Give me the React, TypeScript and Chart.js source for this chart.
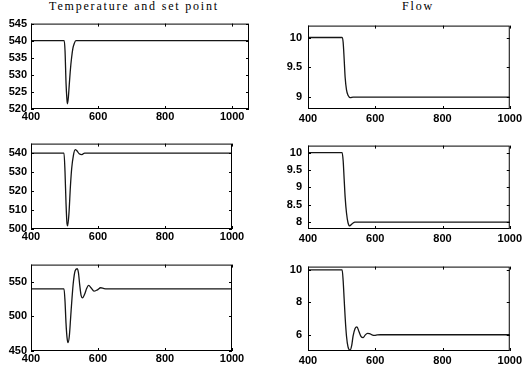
import React, { useEffect, useRef } from 'react';
import { Chart, registerables } from 'chart.js';

Chart.register(...registerables);

// ---- tick labels ----
const xTicks = [400, 600, 800, 1000];
const yTicksTempA = [520, 525, 530, 535, 540, 545];
const yTicksFlowA = [9, 9.5, 10];
const yTicksTempB = [500, 510, 520, 530, 540];
const yTicksFlowB = [8, 8.5, 9, 9.5, 10];
const yTicksTempC = [450, 500, 550];
const yTicksFlowC = [6, 8, 10];

// ---- series ----
const timeTempA = [400, 499, 501.5, 504.5, 507, 508.5, 511, 514, 517, 521, 525, 529, 534, 1050];
const tempA = [540, 540, 537, 527.5, 523, 521.5, 523, 527, 531, 535, 537.8, 539.2, 540, 540];

const timeFlowA = [400, 501, 504.5, 507.5, 510.5, 514.5, 519, 526, 534, 1000];
const flowA = [10, 10, 9.92, 9.64, 9.33, 9.12, 9.03, 8.99, 9.0, 9.0];

const timeTempB = [400, 498.5, 501.5, 504.5, 507.5, 509.5, 513.5, 517.5, 521.5, 526.5, 532, 537, 544, 552, 560, 1000];
const tempB = [540, 540, 530.3, 513.7, 502.8, 501.7, 508.7, 522, 532, 538.7, 541.8, 541.2, 539.6, 539.2, 540, 540];

const timeFlowB = [400, 501.5, 504.5, 507.5, 510.5, 514.5, 519, 524, 529, 534, 539, 1000];
const flowB = [10, 10, 9.77, 9.24, 8.71, 8.26, 7.98, 7.89, 7.93, 7.97, 8.0, 8.0];

const timeTempC = [400, 498.5, 501.5, 504.5, 507.5, 510.5, 514.5, 518.5, 522.5, 526.5, 531.5, 537.5, 541.5, 545.5, 549.5, 554, 560, 566, 572, 580, 588, 598, 608, 618, 630, 1000];
const tempC = [540, 540, 522.4, 490.3, 469.7, 462, 472, 499.5, 527, 549.8, 565.8, 569, 563.6, 545.2, 530.6, 527, 532, 540.5, 545, 541, 536.5, 538.5, 541.5, 540.3, 540, 540];

const timeFlowC = [400, 501.5, 504.5, 507.5, 510.5, 514.5, 519, 525, 530, 534, 540, 545.5, 551.5, 558, 564, 570, 577, 583, 590, 598, 606, 615, 1000];
const flowC = [10, 10, 9.34, 8.2, 7.06, 5.91, 5.25, 5.05, 5.34, 5.91, 6.39, 6.49, 6.2, 5.88, 5.82, 5.98, 6.08, 6.07, 6.0, 5.96, 5.99, 6.0, 6.0];

const titleLeft = 'Temperature and set point';
const titleRight = 'Flow';

const TICK_FONT = { family: '"Liberation Sans", Arial, sans-serif', size: 11, weight: 'bold' as const };

const framePlugin = {
  id: 'frameTicks',
  afterDraw(chart: any) {
    const { ctx, chartArea: a, scales } = chart;
    const x = scales.x, y = scales.y;
    ctx.save();
    ctx.strokeStyle = '#000';
    ctx.lineWidth = 1;
    ctx.strokeRect(a.left + 0.5, a.top + 0.5, a.right - a.left - 1, a.bottom - a.top - 1);
    ctx.beginPath();
    for (const t of x.ticks) {
      const px = Math.round(x.getPixelForValue(t.value)) + 0.5;
      ctx.moveTo(px, a.bottom); ctx.lineTo(px, a.bottom - 3);
      ctx.moveTo(px, a.top); ctx.lineTo(px, a.top + 3);
    }
    for (const t of y.ticks) {
      const py = Math.round(y.getPixelForValue(t.value)) + 0.5;
      ctx.moveTo(a.left, py); ctx.lineTo(a.left + 3, py);
      ctx.moveTo(a.right, py); ctx.lineTo(a.right - 3, py);
    }
    ctx.stroke();
    ctx.restore();
  },
};

type PanelProps = {
  L: number; R: number; T: number; B: number;
  xMax: number; yMin: number; yMax: number; yTicks: number[];
  xs: number[]; ys: number[]; yPad: number; xPad: number;
};

const AW = 30, PT = 6, PR = 14, XH = 16;

function Panel({ L, R, T, B, xMax, yMin, yMax, yTicks, xs, ys, yPad, xPad }: PanelProps) {
  const ref = useRef<HTMLCanvasElement>(null);
  const w = R - L + AW + PR;
  const h = B - T + PT + XH;
  useEffect(() => {
    const chart = new Chart(ref.current as HTMLCanvasElement, {
      type: 'line',
      data: {
        datasets: [{
          data: xs.map((x, i) => ({ x, y: ys[i] })),
          borderColor: '#151515',
          borderWidth: 1.3,
          pointRadius: 0,
          cubicInterpolationMode: 'monotone',
          fill: false,
        }],
      },
      options: {
        responsive: false,
        animation: false,
        devicePixelRatio: 1,
        layout: { padding: { top: PT, right: PR, left: 0, bottom: 0 } },
        plugins: { legend: { display: false }, tooltip: { enabled: false } },
        scales: {
          x: {
            type: 'linear', min: 400, max: xMax,
            afterBuildTicks: (s: any) => { s.ticks = xTicks.map((v) => ({ value: v })); },
            afterFit: (s: any) => { s.height = XH; },
            grid: { display: false, drawTicks: false },
            border: { display: false },
            ticks: { font: TICK_FONT, color: '#000', padding: xPad, maxRotation: 0, autoSkip: false, callback: (v: any) => String(v) },
          },
          y: {
            type: 'linear', min: yMin, max: yMax,
            afterBuildTicks: (s: any) => { s.ticks = yTicks.map((v) => ({ value: v })); },
            afterFit: (s: any) => { s.width = AW; },
            grid: { display: false, drawTicks: false },
            border: { display: false },
            ticks: { font: TICK_FONT, color: '#000', padding: yPad, autoSkip: false, callback: (v: any) => String(v) },
          },
        },
      } as any,
      plugins: [framePlugin],
    });
    return () => chart.destroy();
  }, []);
  return (
    <canvas
      ref={ref}
      width={w}
      height={h}
      style={{ position: 'absolute', left: L - AW, top: T - PT, width: w, height: h }}
    />
  );
}

const titleStyle: React.CSSProperties = {
  position: 'absolute',
  top: -1,
  transform: 'translateX(-50%)',
  fontFamily: '"Liberation Serif", "Times New Roman", serif',
  fontSize: 12,
  lineHeight: '14px',
  letterSpacing: '1.8px',
  whiteSpace: 'nowrap',
  color: '#000',
};

export default function App() {
  return (
    <div style={{ position: 'absolute', left: 0, top: 0, width: 523, height: 368, overflow: 'hidden', background: '#fff' }}>
      <div style={{ ...titleStyle, left: 134 }}>{titleLeft}</div>
      <div style={{ ...titleStyle, left: 418 }}>{titleRight}</div>
      <Panel L={31} R={249} T={19} B={109} xMax={1050} yMin={520} yMax={545} yTicks={yTicksTempA} xs={timeTempA} ys={tempA} yPad={4} xPad={1} />
      <Panel L={308} R={511} T={19} B={109} xMax={1000} yMin={8.8} yMax={10.2} yTicks={yTicksFlowA} xs={timeFlowA} ys={flowA} yPad={6} xPad={3} />
      <Panel L={31} R={232} T={139} B={229} xMax={1000} yMin={500} yMax={545} yTicks={yTicksTempB} xs={timeTempB} ys={tempB} yPad={4} xPad={1} />
      <Panel L={308} R={511} T={139} B={229} xMax={1000} yMin={7.8} yMax={10.2} yTicks={yTicksFlowB} xs={timeFlowB} ys={flowB} yPad={6} xPad={3} />
      <Panel L={31} R={232} T={260} B={351} xMax={1000} yMin={450} yMax={575} yTicks={yTicksTempC} xs={timeTempC} ys={tempC} yPad={4} xPad={1} />
      <Panel L={308} R={511} T={260} B={351} xMax={1000} yMin={5} yMax={10.2} yTicks={yTicksFlowC} xs={timeFlowC} ys={flowC} yPad={6} xPad={3} />
    </div>
  );
}
